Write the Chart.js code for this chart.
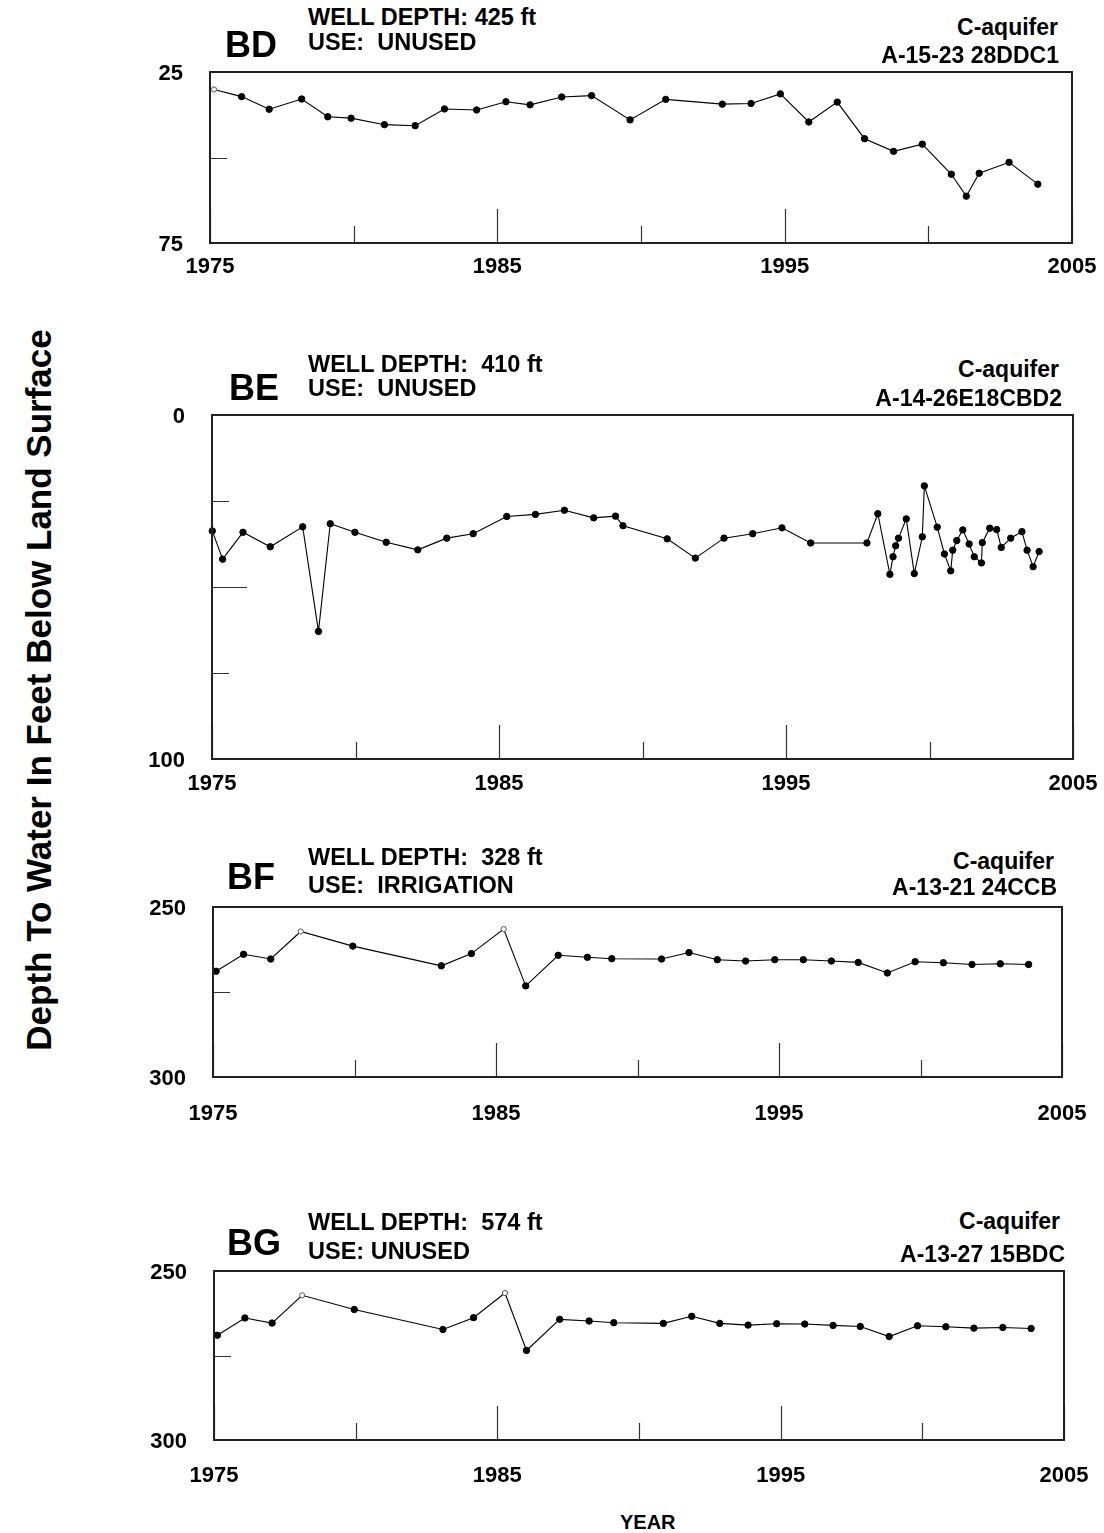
<!DOCTYPE html>
<html>
<head>
<meta charset="utf-8">
<script src="https://cdn.jsdelivr.net/npm/chart.js@4.4.1/dist/chart.umd.min.js"></script>
<style>
  body { margin: 0; background: #fff; width: 1104px; height: 1533px; position: relative; overflow: hidden;
         font-family: "Liberation Sans", Arial, sans-serif; font-weight: bold; color: #000; }
  canvas { position: absolute; left: 0; }
  .t { position: absolute; white-space: pre; line-height: 1; }
</style>
</head>
<body>
<div class="t" id="ytitle" style="font-size:35px; left:38px; top:690px; transform: translate(-50%,-50%) rotate(-90deg);">Depth To Water In Feet Below Land Surface</div>
<div class="t" style="font-size:20px; left:620px; top:1512px;">YEAR</div>

<script>
// well BD  A-15-23 28DDC1
const bdYears = [1975.14, 1976.10, 1977.06, 1978.19, 1979.10, 1979.91, 1981.07, 1982.14, 1983.16, 1984.28,
  1985.30, 1986.14, 1987.24, 1988.28, 1989.62, 1990.86, 1992.83, 1993.83, 1994.85, 1995.84,
  1996.83, 1997.78, 1998.79, 1999.79, 2000.80, 2001.32, 2001.77, 2002.81, 2003.81];
const bdDepth = [30.1, 32.2, 35.9, 32.9, 38.1, 38.5, 40.4, 40.7, 35.8, 36.1,
  33.7, 34.6, 32.3, 31.9, 39.0, 33.0, 34.4, 34.2, 31.4, 39.6,
  33.8, 44.5, 48.2, 46.1, 54.9, 61.3, 54.6, 51.4, 57.8];
const bdOpen = [0];

// well BE  A-14-26E18CBD2
const beYears = [1975.01, 1975.37, 1976.08, 1977.03, 1978.16, 1978.71, 1979.12, 1979.98, 1981.07, 1982.17,
  1983.18, 1984.10, 1985.27, 1986.27, 1987.28, 1988.30, 1989.06, 1989.32, 1990.86, 1991.84,
  1992.84, 1993.84, 1994.86, 1995.86, 1997.82, 1998.20, 1998.62, 1998.73, 1998.82, 1998.92,
  1999.19, 1999.47, 1999.75, 1999.82, 2000.27, 2000.52, 2000.74, 2000.81, 2000.95, 2001.16,
  2001.38, 2001.56, 2001.81, 2001.84, 2002.10, 2002.34, 2002.50, 2002.83, 2003.22, 2003.40,
  2003.61, 2003.82];
const beDepth = [33.7, 41.9, 34.1, 38.3, 32.5, 62.9, 31.6, 34.1, 37.0, 39.2,
  35.8, 34.5, 29.5, 28.9, 27.7, 29.9, 29.4, 32.2, 36.0, 41.6,
  35.8, 34.5, 32.8, 37.2, 37.2, 28.7, 46.3, 41.2, 38.0, 35.8,
  30.2, 46.1, 35.4, 20.6, 32.6, 40.4, 45.3, 39.3, 36.5, 33.4,
  37.5, 41.2, 43.0, 37.1, 32.9, 33.3, 38.5, 35.8, 33.9, 39.3,
  44.1, 39.7];
const beOpen = [];

// well BF  A-13-21 24CCB
const bfYears = [1975.11, 1976.08, 1977.04, 1978.10, 1979.94, 1983.07, 1984.13, 1985.27, 1986.05, 1987.20,
  1988.23, 1989.09, 1990.85, 1991.82, 1992.82, 1993.82, 1994.85, 1995.86, 1996.85, 1997.80,
  1998.83, 1999.81, 2000.81, 2001.82, 2002.82, 2003.82];
const bfDepth = [268.9, 263.9, 265.3, 257.2, 261.5, 267.3, 263.7, 256.5, 273.2, 264.2,
  264.8, 265.2, 265.3, 263.4, 265.5, 265.9, 265.5, 265.5, 265.9, 266.3,
  269.4, 266.1, 266.4, 266.9, 266.7, 266.9];
const bfOpen = [3, 7];

// well BG  A-13-27 15BDC
const bgYears = [1975.12, 1976.09, 1977.05, 1978.11, 1979.95, 1983.08, 1984.16, 1985.27, 1986.03, 1987.20,
  1988.24, 1989.11, 1990.86, 1991.86, 1992.85, 1993.85, 1994.86, 1995.85, 1996.85, 1997.81,
  1998.83, 1999.83, 2000.83, 2001.82, 2002.84, 2003.84];
const bgDepth = [269.0, 263.9, 265.4, 257.2, 261.4, 267.3, 263.8, 256.5, 273.5, 264.3,
  264.8, 265.3, 265.5, 263.4, 265.5, 266.0, 265.6, 265.7, 266.1, 266.4,
  269.4, 266.2, 266.5, 266.9, 266.7, 267.0];
const bgOpen = [3, 7];

// axes
const xRange = [1975, 2005];
const xLabels = [1975, 1985, 1995, 2005];
const xShortTicks = [1980, 1990, 2000];
const xLongTicks = [1975, 1985, 1995, 2005];

const wellIds = ['BD', 'BE', 'BF', 'BG'];
const wellDepths = ['WELL DEPTH: 425 ft', 'WELL DEPTH:  410 ft', 'WELL DEPTH:  328 ft', 'WELL DEPTH:  574 ft'];
const wellUses = ['USE:  UNUSED', 'USE:  UNUSED', 'USE:  IRRIGATION', 'USE: UNUSED'];
const aquifers = ['C-aquifer', 'C-aquifer', 'C-aquifer', 'C-aquifer'];
const locations = ['A-15-23 28DDC1', 'A-14-26E18CBD2', 'A-13-21 24CCB', 'A-13-27 15BDC'];
const yRanges = [[25, 75], [0, 100], [250, 300], [250, 300]];
const yShortTicks = [[50], [25, 75], [275], [275]];
const yLongTicks = [[], [50], [], []];

const series = [
  [bdYears, bdDepth, bdOpen],
  [beYears, beDepth, beOpen],
  [bfYears, bfDepth, bfOpen],
  [bgYears, bgDepth, bgOpen]
];

// layout of each panel (plot box in page pixels + text anchors)
const layout = [
  { left: 210, right: 1072, top: 72, bottom: 243, xlab: 22,
    idX: 225, idY: 45, line1Y: 18, line2Y: 43, rightEdge: [1058, 1059], rY: [27, 55] },
  { left: 212, right: 1073, top: 415, bottom: 759, xlab: 23,
    idX: 229, idY: 388, line1Y: 365, line2Y: 389, rightEdge: [1059, 1062], rY: [369, 398] },
  { left: 213, right: 1062, top: 907, bottom: 1077, xlab: 35,
    idX: 227, idY: 877, line1Y: 858, line2Y: 886, rightEdge: [1054, 1057], rY: [861, 887] },
  { left: 214, right: 1064, top: 1271, bottom: 1440, xlab: 34,
    idX: 227, idY: 1243, line1Y: 1223, line2Y: 1252, rightEdge: [1060, 1065], rY: [1221, 1254] }
];

const PAGE_W = 1104;
const FONT = '"Liberation Sans", Arial, sans-serif';

// text placed by cap-centre: top = centre - 0.49 * size
function addText(str, size, x, capY, alignRight) {
  const d = document.createElement('div');
  d.className = 't';
  d.textContent = str;
  d.style.fontSize = size + 'px';
  d.style.top = (capY - 0.49 * size) + 'px';
  if (alignRight) { d.style.right = (PAGE_W - x) + 'px'; d.style.textAlign = 'right'; }
  else d.style.left = x + 'px';
  document.body.appendChild(d);
}

// inner tick marks, frame and tick labels
const wellFrame = {
  id: 'wellFrame',
  afterDatasetsDraw(chart, args, o) {
    const { ctx, chartArea: a, scales: { x, y } } = chart;
    ctx.save();
    ctx.strokeStyle = '#333';
    ctx.lineWidth = 1.2;
    ctx.beginPath();
    o.xShort.forEach(v => { const px = Math.round(x.getPixelForValue(v)) + 0.5; ctx.moveTo(px, a.bottom); ctx.lineTo(px, a.bottom - 17); });
    o.xLong.forEach(v => { const px = Math.round(x.getPixelForValue(v)) + 0.5; ctx.moveTo(px, a.bottom); ctx.lineTo(px, a.bottom - 34); });
    o.yShort.forEach(v => { const py = Math.round(y.getPixelForValue(v)) + 0.5; ctx.moveTo(a.left, py); ctx.lineTo(a.left + 17, py); });
    o.yLong.forEach(v => { const py = Math.round(y.getPixelForValue(v)) + 0.5; ctx.moveTo(a.left, py); ctx.lineTo(a.left + 35, py); });
    ctx.stroke();

    ctx.lineWidth = 2;
    ctx.strokeStyle = '#222';
    ctx.strokeRect(a.left, a.top, a.right - a.left, a.bottom - a.top);

    ctx.fillStyle = '#000';
    ctx.font = 'bold 22px ' + FONT;
    ctx.textBaseline = 'alphabetic';
    ctx.textAlign = 'right';
    o.yLabels.forEach(v => ctx.fillText(String(v), a.left - 27, y.getPixelForValue(v) + 8));
    ctx.textAlign = 'center';
    o.xLabels.forEach(v => ctx.fillText(String(v), x.getPixelForValue(v), a.bottom + o.xlab + 8));
    ctx.restore();
  }
};

series.forEach((s, i) => {
  const L = layout[i];
  const [years, depth, open] = s;
  const cTop = L.top - 20;
  const cBottom = L.bottom + 55;

  const canvas = document.createElement('canvas');
  canvas.width = PAGE_W;
  canvas.height = cBottom - cTop;
  canvas.style.top = cTop + 'px';
  document.body.appendChild(canvas);

  const pts = years.map((yr, k) => ({ x: yr, y: depth[k] }));
  const isOpen = years.map((yr, k) => open.includes(k));

  new Chart(canvas.getContext('2d'), {
    type: 'scatter',
    data: {
      datasets: [{
        data: pts,
        showLine: true,
        borderColor: '#000',
        borderWidth: 1.1,
        tension: 0,
        pointRadius: isOpen.map(b => b ? 2.6 : 3.2),
        pointBackgroundColor: isOpen.map(b => b ? '#fff' : '#000'),
        pointBorderColor: isOpen.map(b => b ? '#555' : '#000'),
        pointBorderWidth: 1,
        clip: false
      }]
    },
    options: {
      responsive: false,
      animation: false,
      devicePixelRatio: 1,
      layout: { padding: { left: L.left, right: PAGE_W - L.right, top: L.top - cTop, bottom: cBottom - L.bottom } },
      scales: {
        x: { type: 'linear', min: xRange[0], max: xRange[1], display: false },
        y: { type: 'linear', min: yRanges[i][0], max: yRanges[i][1], reverse: true, display: false }
      },
      plugins: {
        legend: { display: false },
        tooltip: { enabled: false },
        wellFrame: {
          xShort: xShortTicks, xLong: xLongTicks,
          yShort: yShortTicks[i], yLong: yLongTicks[i],
          yLabels: yRanges[i], xLabels: xLabels, xlab: L.xlab
        }
      }
    },
    plugins: [wellFrame]
  });

  addText(wellIds[i], 36, L.idX, L.idY, false);
  addText(wellDepths[i], 23.5, 308, L.line1Y, false);
  addText(wellUses[i], 23.5, 308, L.line2Y, false);
  addText(aquifers[i], 23, L.rightEdge[0], L.rY[0], true);
  addText(locations[i], 23, L.rightEdge[1], L.rY[1], true);
});
</script>
</body>
</html>
